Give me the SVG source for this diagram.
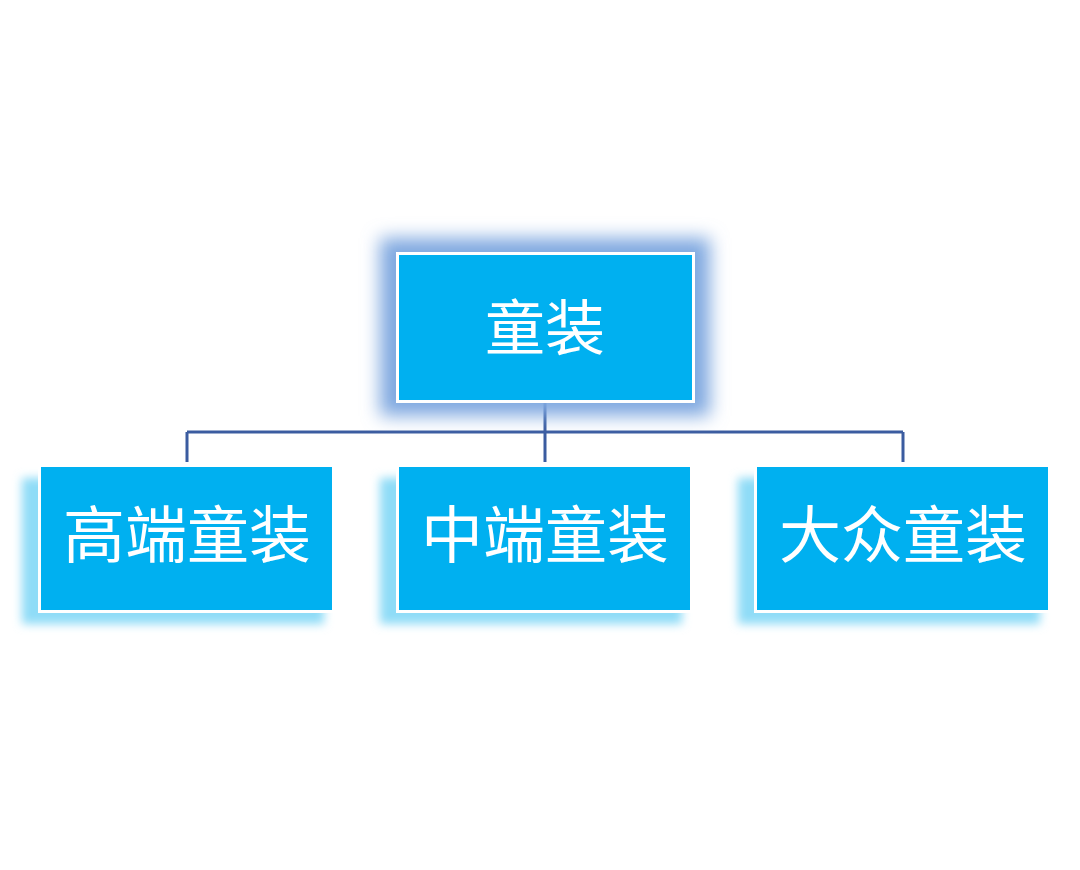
<svg xmlns="http://www.w3.org/2000/svg" width="1080" height="870" viewBox="0 0 1080 870">
<defs>
<filter id="glow" x="-30%" y="-40%" width="160%" height="180%"><feGaussianBlur stdDeviation="9"/></filter>
<filter id="shadow" x="-20%" y="-30%" width="140%" height="160%"><feGaussianBlur stdDeviation="5"/></filter>
<style>
.box{fill:#00b0f0;stroke:#ffffff;stroke-width:3}
.lbl{font-family:"Noto Sans CJK SC","Noto Sans",sans-serif;fill:#ffffff;text-anchor:middle}
.conn{fill:none;stroke:#3b5ca0;stroke-width:3}
.sh{fill:#8fdcf7}
</style>
</defs>
<rect width="1080" height="870" fill="#ffffff"/>
<g id="connectors">
<path class="conn" d="M545 402V432M187 432H903M187 432V462M545 432V462M903 432V462"/>
</g>
<g id="root">
<rect x="380" y="238" width="330" height="178" fill="#7fa8e0" filter="url(#glow)"/>
<rect class="box" x="397.5" y="253.5" width="296" height="148"/>
<text class="lbl" x="545" y="350" font-size="60">童装</text>
</g>
<g id="high">
<rect class="sh" x="22" y="478" width="302" height="146" filter="url(#shadow)"/>
<rect class="box" x="39.5" y="465.5" width="294" height="146"/>
<text class="lbl" x="187" y="558" font-size="62">高端童装</text>
</g>
<g id="mid">
<rect class="sh" x="380" y="478" width="302" height="146" filter="url(#shadow)"/>
<rect class="box" x="397.5" y="465.5" width="294" height="146"/>
<text class="lbl" x="545" y="558" font-size="62">中端童装</text>
</g>
<g id="mass">
<rect class="sh" x="738" y="478" width="302" height="146" filter="url(#shadow)"/>
<rect class="box" x="755.5" y="465.5" width="294" height="146"/>
<text class="lbl" x="903" y="558" font-size="62">大众童装</text>
</g>
</svg>
